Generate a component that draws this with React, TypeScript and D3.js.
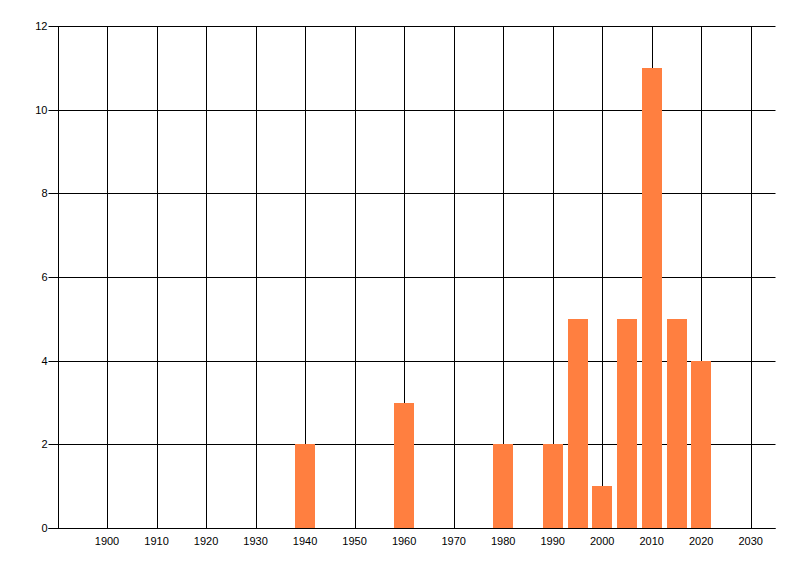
import { useEffect, useRef } from 'react'
import * as d3 from 'd3'

const years = [1940, 1960, 1980, 1990, 1995, 2000, 2005, 2010, 2015, 2020]
const counts = [2, 3, 2, 2, 5, 1, 5, 11, 5, 4]
const xTicks = [1900, 1910, 1920, 1930, 1940, 1950, 1960, 1970, 1980, 1990, 2000, 2010, 2020, 2030]
const yTicks = [0, 2, 4, 6, 8, 10, 12]

function Barchart({ width = 800, height = 576 }) {
    const chartRef = useRef<SVGSVGElement | null>(null)

    useEffect(() => {
        d3.select(chartRef.current).selectAll("*").remove();

        const svg = d3.select(chartRef.current)
            .attr("viewBox", [0, 0, width, height])
            .attr("width", width)
            .attr("height", height)
            .style("font-family", "'Liberation Sans', Arial, sans-serif")
            .style("font-size", "11px");

        const left = 57.5, right = 775.5, top = 26, bottom = 528;

        const x = d3.scaleLinear().domain([1890, 2035]).range([left, right]);
        const y = d3.scaleLinear().domain([0, 12]).range([bottom, top]);

        // gridlines
        svg.append("g")
            .attr("stroke", "#000")
            .selectAll("line")
            .data(yTicks)
            .join("line")
            .attr("x1", left - 9)
            .attr("x2", right)
            .attr("y1", d => Math.round(y(d)) + 0.5)
            .attr("y2", d => Math.round(y(d)) + 0.5);

        svg.append("g")
            .attr("stroke", "#000")
            .selectAll("line")
            .data([1890, ...xTicks])
            .join("line")
            .attr("x1", d => Math.round(x(d)) + 0.5)
            .attr("x2", d => Math.round(x(d)) + 0.5)
            .attr("y1", top)
            .attr("y2", bottom + 0.5);

        // bars (4 years wide, centred on the year)
        const bw = x(1944) - x(1940);
        svg.append("g")
            .attr("fill", "#ff7f40")
            .selectAll("rect")
            .data(years)
            .join("rect")
            .attr("x", (d) => Math.round(x(d) - bw / 2))
            .attr("y", (_, i) => Math.round(y(counts[i])))
            .attr("width", Math.round(bw))
            .attr("height", (_, i) => Math.round(y(0)) - Math.round(y(counts[i])) + 1);

        // baseline over bars
        svg.append("line")
            .attr("stroke", "#000")
            .attr("x1", left - 9).attr("x2", right)
            .attr("y1", Math.round(y(0)) + 0.5).attr("y2", Math.round(y(0)) + 0.5);

        svg.append("g")
            .attr("text-anchor", "end")
            .selectAll("text")
            .data(yTicks)
            .join("text")
            .attr("x", left - 10)
            .attr("y", d => y(d))
            .attr("dy", "0.35em")
            .text(d => d);

        svg.append("g")
            .attr("text-anchor", "middle")
            .selectAll("text")
            .data(xTicks)
            .join("text")
            .attr("x", d => x(d))
            .attr("y", bottom + 17)
            .text(d => d);
    }, []);

    return (
        <svg ref={chartRef} style={{ position: 'absolute', left: 0, top: 0, background: '#fff' }}></svg>
    )
}

export default function App() {
    return <Barchart />
}
